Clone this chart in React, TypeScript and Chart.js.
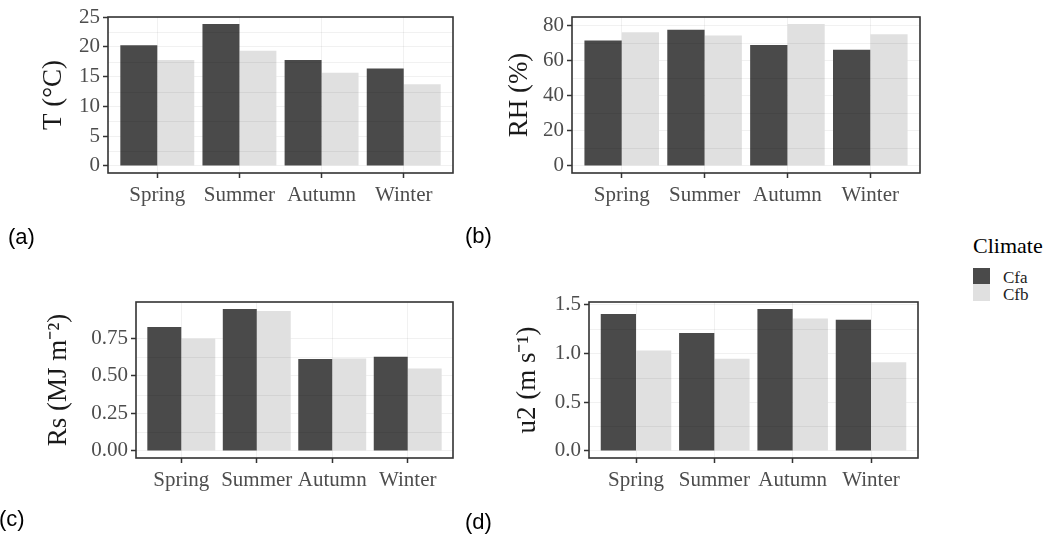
import React, { useEffect, useRef } from "react";
import { Chart, registerables } from "chart.js";

Chart.register(...registerables);

// ---------- data ----------
const SEASONS = ["Spring", "Summer", "Autumn", "Winter"];
const CLIMATES = ["Cfa", "Cfb"];

const T_CFA = [20.3, 23.85, 17.8, 16.4];
const T_CFB = [17.8, 19.35, 15.65, 13.75];
const RH_CFA = [71.6, 77.7, 69.0, 66.3];
const RH_CFB = [76.4, 74.5, 81.0, 75.2];
const RS_CFA = [0.827, 0.946, 0.613, 0.628];
const RS_CFB = [0.75, 0.933, 0.617, 0.549];
const U2_CFA = [1.4, 1.206, 1.45, 1.34];
const U2_CFB = [1.026, 0.942, 1.355, 0.907];

const T_TICKS = [0, 5, 10, 15, 20, 25];
const RH_TICKS = [0, 20, 40, 60, 80];
const RS_TICKS = [0, 0.25, 0.5, 0.75];
const U2_TICKS = [0, 0.5, 1, 1.5];

// ---------- styles ----------
const COLOR_CFA = "#4a4a4a";
const COLOR_CFB = "#e0e0e0";
const SERIF = "'Liberation Serif', 'Times New Roman', serif";
const SANS = "'Liberation Sans', Arial, sans-serif";
const GRID = "rgba(0,0,0,0.055)";
const DARK = "#333333";

type PanelProps = {
  left: number;
  top: number;
  width: number;
  height: number;
  area: { l: number; t: number; r: number; b: number };
  title: string;
  titleOffset: number;
  cfa: number[];
  cfb: number[];
  ticks: number[];
  decimals: number;
};

const minorGridPlugin = {
  id: "minorGridAndBorder",
  afterDatasetsDraw(chart: any) {
    const { ctx, chartArea } = chart;
    const y = chart.scales.y;
    const vals = y.ticks.map((t: any) => t.value);
    ctx.save();
    ctx.strokeStyle = GRID;
    ctx.lineWidth = 1;
    for (let i = 0; i < vals.length - 1; i++) {
      const m = (vals[i] + vals[i + 1]) / 2;
      const py = Math.round(y.getPixelForValue(m)) + 0.5;
      ctx.beginPath();
      ctx.moveTo(chartArea.left, py);
      ctx.lineTo(chartArea.right, py);
      ctx.stroke();
    }
    ctx.restore();
  },
  afterDraw(chart: any) {
    const { ctx, chartArea } = chart;
    ctx.save();
    ctx.strokeStyle = DARK;
    ctx.lineWidth = 1.6;
    ctx.strokeRect(
      chartArea.left,
      chartArea.top,
      chartArea.right - chartArea.left,
      chartArea.bottom - chartArea.top
    );
    ctx.restore();
  },
};

function Panel(p: PanelProps) {
  const ref = useRef<HTMLCanvasElement | null>(null);
  useEffect(() => {
    if (!ref.current) return;
    const XH = 40;
    const dataMax = Math.max(...p.cfa, ...p.cfb);
    const chart = new Chart(ref.current, {
      type: "bar",
      data: {
        datasets: [
          {
            label: CLIMATES[0],
            data: p.cfa.map((v, i) => ({ x: i, y: v })),
            backgroundColor: COLOR_CFA,
            borderWidth: 0,
          },
          {
            label: CLIMATES[1],
            data: p.cfb.map((v, i) => ({ x: i, y: v })),
            backgroundColor: COLOR_CFB,
            borderWidth: 0,
          },
        ],
      },
      options: {
        responsive: false,
        animation: false,
        devicePixelRatio: 1,
        datasets: { bar: { categoryPercentage: 0.9, barPercentage: 1.0 } },
        layout: {
          padding: {
            left: 0,
            top: p.area.t,
            right: p.width - p.area.r,
            bottom: p.height - p.area.b - XH,
          },
        },
        plugins: {
          legend: { display: false },
          tooltip: { enabled: false },
        },
        scales: {
          x: {
            type: "linear",
            min: -0.6,
            max: SEASONS.length - 1 + 0.6,
            offset: false,
            z: 1,
            afterBuildTicks: (axis: any) => {
              axis.ticks = SEASONS.map((_, i) => ({ value: i }));
            },
            afterFit: (axis: any) => {
              axis.height = XH;
            },
            ticks: {
              autoSkip: false,
              maxRotation: 0,
              padding: 5,
              color: "#4d4d4d",
              font: { family: SERIF, size: 21 },
              callback: (v: any) => SEASONS[Math.round(Number(v))] ?? "",
            },
            grid: {
              offset: false,
              color: GRID,
              lineWidth: 1,
              tickColor: DARK,
              tickLength: 5,
              tickWidth: 1.5,
            },
            border: { display: false },
          },
          y: {
            type: "linear",
            min: -0.05 * dataMax,
            max: 1.05 * dataMax,
            z: 1,
            afterBuildTicks: (axis: any) => {
              axis.ticks = p.ticks.map((v) => ({ value: v }));
            },
            afterFit: (axis: any) => {
              axis.width = p.area.l;
            },
            ticks: {
              padding: 3,
              color: "#4d4d4d",
              font: { family: SERIF, size: 21 },
              callback: (v: any) => Number(v).toFixed(p.decimals),
            },
            grid: {
              color: GRID,
              lineWidth: 1,
              tickColor: DARK,
              tickLength: 5,
              tickWidth: 1.5,
            },
            border: { display: false },
            title: {
              display: true,
              text: p.title,
              color: "#1a1a1a",
              font: { family: SERIF, size: 27, lineHeight: 1 },
              padding: { top: p.titleOffset - 13.5, bottom: 0 },
            },
          },
        },
      },
      plugins: [minorGridPlugin],
    } as any);
    return () => chart.destroy();
  }, []);
  return (
    <canvas
      ref={ref}
      width={p.width}
      height={p.height}
      style={{
        position: "absolute",
        left: p.left,
        top: p.top,
        width: p.width,
        height: p.height,
      }}
    />
  );
}

function TextAt(props: {
  x: number;
  y: number;
  size: number;
  family: string;
  color?: string;
  children: React.ReactNode;
}) {
  return (
    <div
      style={{
        position: "absolute",
        left: props.x,
        top: props.y,
        fontFamily: props.family,
        fontSize: props.size,
        lineHeight: `${props.size}px`,
        color: props.color ?? "#000",
        whiteSpace: "nowrap",
      }}
    >
      {props.children}
    </div>
  );
}

export default function App() {
  useEffect(() => {
    document.body.style.margin = "0";
  }, []);
  return (
    <div
      style={{
        position: "relative",
        width: 1047,
        height: 536,
        background: "#fff",
        overflow: "hidden",
      }}
    >
      <Panel
        left={0}
        top={0}
        width={460}
        height={225}
        area={{ l: 108, t: 17, r: 453, b: 173 }}
        title="T (°C)"
        titleOffset={54}
        cfa={T_CFA}
        cfb={T_CFB}
        ticks={T_TICKS}
        decimals={0}
      />
      <Panel
        left={460}
        top={0}
        width={470}
        height={225}
        area={{ l: 112, t: 17, r: 460, b: 173 }}
        title="RH (%)"
        titleOffset={60}
        cfa={RH_CFA}
        cfb={RH_CFB}
        ticks={RH_TICKS}
        decimals={0}
      />
      <Panel
        left={0}
        top={270}
        width={460}
        height={225}
        area={{ l: 136, t: 32, r: 453, b: 188 }}
        title="Rs (MJ m⁻²)"
        titleOffset={59}
        cfa={RS_CFA}
        cfb={RS_CFB}
        ticks={RS_TICKS}
        decimals={2}
      />
      <Panel
        left={460}
        top={270}
        width={470}
        height={225}
        area={{ l: 129, t: 32, r: 458, b: 188 }}
        title="u2 (m s⁻¹)"
        titleOffset={68}
        cfa={U2_CFA}
        cfb={U2_CFB}
        ticks={U2_TICKS}
        decimals={1}
      />

      <TextAt x={8} y={226} size={22} family={SANS}>(a)</TextAt>
      <TextAt x={465} y={225} size={22} family={SANS}>(b)</TextAt>
      <TextAt x={-1} y={508} size={22} family={SANS}>(c)</TextAt>
      <TextAt x={465} y={511} size={22} family={SANS}>(d)</TextAt>

      <TextAt x={973} y={235} size={22} family={SERIF}>Climate</TextAt>
      <div style={{ position: "absolute", left: 973, top: 268, width: 17, height: 16, background: COLOR_CFA }} />
      <div style={{ position: "absolute", left: 973, top: 284, width: 17, height: 17, background: COLOR_CFB }} />
      <TextAt x={1003} y={269} size={17} family={SERIF} color="#222">{CLIMATES[0]}</TextAt>
      <TextAt x={1003} y={286} size={17} family={SERIF} color="#222">{CLIMATES[1]}</TextAt>
    </div>
  );
}
